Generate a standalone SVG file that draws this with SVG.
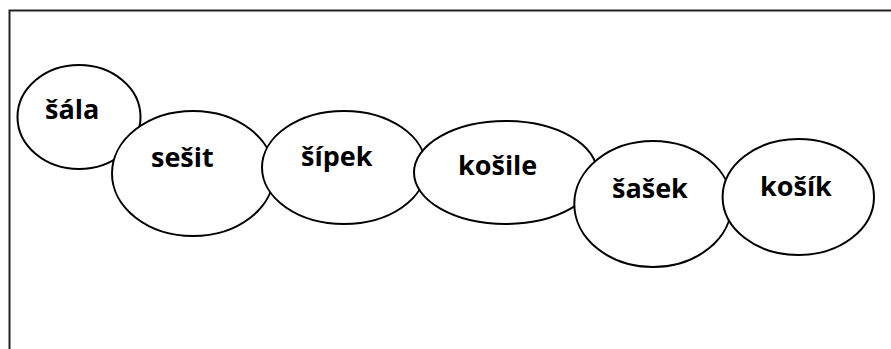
<svg xmlns="http://www.w3.org/2000/svg" width="891" height="349" viewBox="0 0 891 349">
<style>
.n ellipse{fill:#fff;stroke:#000;stroke-width:2}
.n text{font-family:"Open Sans","Liberation Sans",sans-serif;font-weight:bold;font-size:27px;fill:#000}
</style>
<rect width="891" height="349" fill="#fff"/>
<path d="M9.5,349 V10.5 H891" fill="none" stroke="#222" stroke-width="2"/>
<g id="connectors"></g>
<g id="sala" class="n"><ellipse cx="79" cy="117" rx="61.5" ry="52"/><text x="45" y="119">šála</text></g>
<g id="sesit" class="n"><ellipse cx="193" cy="173.5" rx="81" ry="62.5"/><text x="151" y="167">sešit</text></g>
<g id="sipek" class="n"><ellipse cx="344" cy="167.5" rx="82" ry="56.5"/><text x="301" y="166">šípek</text></g>
<g id="kosile" class="n"><ellipse cx="505.5" cy="172.5" rx="91.5" ry="51.5"/><text x="458" y="175">košile</text></g>
<g id="sasek" class="n"><ellipse cx="653" cy="204" rx="78.7" ry="63"/><text x="612" y="198">šašek</text></g>
<g id="kosik" class="n"><ellipse cx="798.3" cy="197" rx="75.7" ry="58"/><text x="760" y="196">košík</text></g>
</svg>
